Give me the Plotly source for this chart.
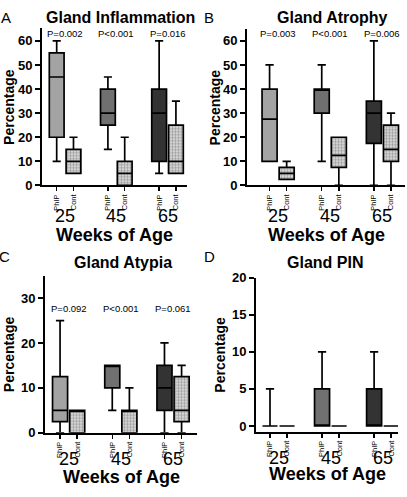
import plotly.graph_objects as go

W, H = 407, 497

# ---------------- data ----------------
groups = ["25", "45", "65"]
tick_labels = ["PhIP", "Cont", "PhIP", "Cont", "PhIP", "Cont"]
positions = [0, 1, 3.05, 4.05, 6.1, 7.1]
panel_titles = ["Gland Inflammation", "Gland Atrophy", "Gland Atypia", "Gland PIN"]
panel_letters = ["A", "B", "C", "D"]

# order: PhIP25, Cont25, PhIP45, Cont45, PhIP65, Cont65
inflam_lo = [10, 5, 15, 0, 5, 5]
inflam_q1 = [20, 5, 25, 0, 10, 5]
inflam_med = [45, 10, 30, 5, 30, 10]
inflam_q3 = [55, 15, 40, 10, 40, 25]
inflam_hi = [60, 20, 45, 20, 60, 35]
inflam_p = ["P=0.002", "P<0.001", "P=0.016"]

atro_lo = [10, 2.5, 10, 0, 0, 0]
atro_q1 = [10, 2.5, 30, 7.5, 17.5, 10]
atro_med = [27.5, 5, 40, 12.5, 30, 15]
atro_q3 = [40, 7.5, 40, 20, 35, 25]
atro_hi = [50, 10, 50, 20, 60, 30]
atro_p = ["P=0.003", "P<0.001", "P=0.006"]

atyp_lo = [0, 0, 5, 0, 0, 0]
atyp_q1 = [2.5, 0, 10, 0, 5, 2.5]
atyp_med = [5, 5, 15, 5, 10, 5]
atyp_q3 = [12.5, 5, 15, 5, 15, 12.5]
atyp_hi = [25, 5, 15, 10, 20, 15]
atyp_p = ["P=0.092", "P<0.001", "P=0.061"]

pin_lo = [0, 0, 0, 0, 0, 0]
pin_q1 = [0, 0, 0, 0, 0, 0]
pin_med = [0, 0, 0, 0, 0, 0]
pin_q3 = [0, 0, 5, 0, 5, 0]
pin_hi = [5, 0, 10, 0, 10, 0]
pin_p = []

y_ticks_A = [0, 10, 20, 30, 40, 50, 60]
y_ticks_C = [0, 10, 20, 30]
y_ticks_D = [0, 5, 10, 15, 20]

# ---------------- layout geometry (pixels) ----------------
FONT = "Arial, Liberation Sans, sans-serif"
phip_colors = ["#a3a3a3", "#707070", "#333333"]

panels = [
    dict(stats=(inflam_lo, inflam_q1, inflam_med, inflam_q3, inflam_hi), p=inflam_p,
         xpx=(42, 187), ypx=(22, 184), xr=[-0.875, 7.76], yr=[0, 65.2], yt=y_ticks_A,
         py=63, title_xy=(120, 11), letter_xy=(6, 11), num_y=216, woa_y=235, ylab_x=9),
    dict(stats=(atro_lo, atro_q1, atro_med, atro_q3, atro_hi), p=atro_p,
         xpx=(247, 405), ypx=(23, 184), xr=[-1.32, 7.92], yr=[0, 64.8], yt=y_ticks_A,
         py=63, title_xy=(332, 11), letter_xy=(209, 11), num_y=216, woa_y=235, ylab_x=215),
    dict(stats=(atyp_lo, atyp_q1, atyp_med, atyp_q3, atyp_hi), p=atyp_p,
         xpx=(45, 197), ypx=(277, 439), xr=[-0.88, 8.0], yr=[0, 35], yt=y_ticks_C,
         py=27.7, title_xy=(123, 263), letter_xy=(4, 257), num_y=466, woa_y=485, ylab_x=9),
    dict(stats=(pin_lo, pin_q1, pin_med, pin_q3, pin_hi), p=pin_p,
         xpx=(256, 398), ypx=(279, 438), xr=[-0.82, 7.5], yr=[-0.78, 20], yt=y_ticks_D,
         py=None, title_xy=(325, 263), letter_xy=(209, 257), num_y=465, woa_y=482, ylab_x=220),
]

def px_x(v):
    return v / W

def px_y(v):
    return 1 - v / H

fig = go.Figure()
annotations = []

for i, pn in enumerate(panels):
    k = i + 1
    xa = "x" if k == 1 else f"x{k}"
    ya = "y" if k == 1 else f"y{k}"
    lo, q1, med, q3, hi = pn["stats"]

    # pattern fill for control boxes (drawn beneath the box outlines)
    cont_idx = [j for j in range(6) if tick_labels[j] == "Cont"]
    fig.add_trace(go.Bar(
        x=[positions[j] for j in cont_idx],
        y=[q3[j] - q1[j] for j in cont_idx],
        base=[q1[j] for j in cont_idx],
        width=0.88,
        marker=dict(color="#dcdcdc", line=dict(width=0),
                    pattern=dict(shape=".", fgcolor="#5a5a5a", bgcolor="#e2e2e2",
                                 size=3, solidity=0.5)),
        xaxis=xa, yaxis=ya, showlegend=False, hoverinfo="skip"))

    for j in range(6):
        is_phip = tick_labels[j] == "PhIP"
        fill = phip_colors[j // 2] if is_phip else "rgba(0,0,0,0)"
        fig.add_trace(go.Box(
            x=[positions[j]], q1=[q1[j]], median=[med[j]], q3=[q3[j]],
            lowerfence=[lo[j]], upperfence=[hi[j]],
            orientation="v", width=0.88, whiskerwidth=0.55,
            fillcolor=fill, line=dict(color="black", width=1.7),
            boxpoints=False, xaxis=xa, yaxis=ya, showlegend=False, hoverinfo="skip"))

    axis_common = dict(showline=True, linecolor="black", linewidth=2, showgrid=False,
                       zeroline=False, ticks="outside", tickcolor="black")
    fig.update_layout(**{
        ("xaxis" if k == 1 else f"xaxis{k}"): dict(
            axis_common, domain=[px_x(pn["xpx"][0]), px_x(pn["xpx"][1])],
            range=pn["xr"], tickvals=positions, ticktext=tick_labels, tickangle=-90,
            ticklen=4, tickwidth=1.5, anchor=ya,
            tickfont=dict(family=FONT, size=7.5, color="black")),
        ("yaxis" if k == 1 else f"yaxis{k}"): dict(
            axis_common, domain=[px_y(pn["ypx"][1]), px_y(pn["ypx"][0])],
            range=pn["yr"], tickvals=pn["yt"], ticklen=5, tickwidth=2, anchor=xa,
            tickfont=dict(family=FONT, size=13, color="black", weight="bold")),
    })

    # group numbers
    for g in range(3):
        gx = (positions[2 * g] + positions[2 * g + 1]) / 2
        annotations.append(dict(x=gx, y=px_y(pn["num_y"]), xref=xa, yref="paper",
                                text=groups[g], showarrow=False, xanchor="center",
                                yanchor="middle",
                                font=dict(family=FONT, size=18, color="black")))
        if pn["p"]:
            annotations.append(dict(x=gx, y=pn["py"], xref=xa, yref=ya,
                                    text=pn["p"][g], showarrow=False, xanchor="center",
                                    yanchor="middle",
                                    font=dict(family=FONT, size=9.5, color="black")))
    # x title
    xc = (pn["xpx"][0] + pn["xpx"][1]) / 2
    annotations.append(dict(x=px_x(xc), y=px_y(pn["woa_y"]), xref="paper", yref="paper",
                            text="Weeks of Age", showarrow=False, xanchor="center",
                            yanchor="middle",
                            font=dict(family=FONT, size=18, color="black", weight="bold")))
    # y title
    yc = (pn["ypx"][0] + pn["ypx"][1]) / 2
    annotations.append(dict(x=px_x(pn["ylab_x"]), y=px_y(yc), xref="paper", yref="paper",
                            text="Percentage", showarrow=False, textangle=-90,
                            xanchor="center", yanchor="middle",
                            font=dict(family=FONT, size=14, color="black", weight="bold")))
    # panel title
    tx, ty = pn["title_xy"]
    annotations.append(dict(x=px_x(tx), y=px_y(ty), xref="paper", yref="paper",
                            text=panel_titles[i], showarrow=False, xanchor="center",
                            yanchor="middle",
                            font=dict(family=FONT, size=16, color="black", weight="bold")))
    lx, ly = pn["letter_xy"]
    annotations.append(dict(x=px_x(lx), y=px_y(ly), xref="paper", yref="paper",
                            text=panel_letters[i], showarrow=False, xanchor="center",
                            yanchor="middle",
                            font=dict(family=FONT, size=15, color="black")))

fig.update_layout(width=W, height=H, margin=dict(l=0, r=0, t=0, b=0),
                  paper_bgcolor="white", plot_bgcolor="white",
                  annotations=annotations, barmode="overlay", boxmode="overlay")

fig.write_html("out.html", config={"displayModeBar": False, "staticPlot": True},
               post_script="document.body.style.margin='0px';"
                           "document.body.style.overflow='hidden';")
